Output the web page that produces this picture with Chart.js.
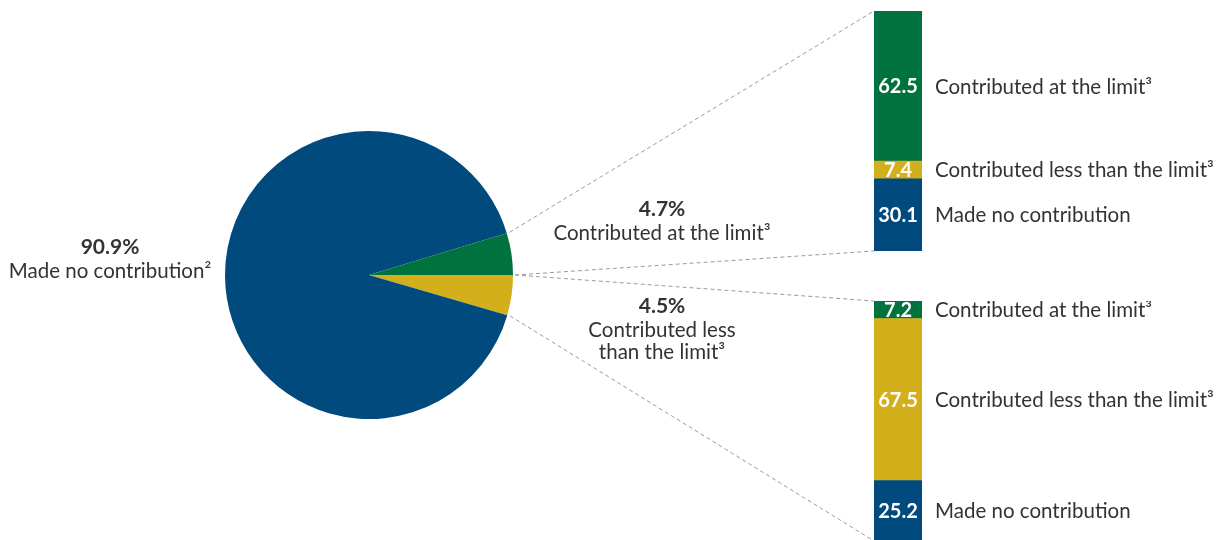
<!DOCTYPE html>
<html>
<head>
<meta charset="utf-8">
<script src="https://cdn.jsdelivr.net/npm/chart.js@4.4.0/dist/chart.umd.min.js"></script>
<style>
    html, body { margin: 0; padding: 0; background: #fff; overflow: hidden; }
    #wrap { position: relative; width: 1224px; height: 540px; overflow: hidden; }
    canvas { position: absolute; }
</style>
</head>
<body>
<div id="wrap">
    <canvas id="pieChart" width="1224" height="540" style="left:0;top:0"></canvas>
    <canvas id="atLimitBar" width="350" height="240" style="left:874px;top:11px"></canvas>
    <canvas id="lessLimitBar" width="350" height="240" style="left:874px;top:301px"></canvas>
</div>
<script>
// --- datos ---
const pieCategories = ['Contributed less than the limit³', 'Made no contribution²', 'Contributed at the limit³'];
const pieValues = [4.5, 90.9, 4.7];

const barCategories = ['Made no contribution', 'Contributed less than the limit³', 'Contributed at the limit³'];
const atLimitValues = [30.1, 7.4, 62.5];
const lessLimitValues = [25.2, 67.5, 7.2];

const BLUE = '#004a7d';
const YELLOW = '#d3af1c';
const GREEN = '#00723d';
const TEXT = '#333333';
const FONT = 'Lato, "Open Sans", sans-serif';

/**
 * Etiquetas de las barras: valor en blanco dentro, categoria a la derecha
 */
const barLabels = {
    id: 'barLabels',
    afterDatasetsDraw(chart) {
        const ctx = chart.ctx;
        ctx.save();
        ctx.textBaseline = 'middle';
        chart.data.datasets.forEach((ds, i) => {
            const bar = chart.getDatasetMeta(i).data[0];
            const cy = (bar.y + bar.base) / 2;
            ctx.fillStyle = '#ffffff';
            ctx.textAlign = 'center';
            ctx.font = 'bold 20px ' + FONT;
            ctx.fillText(ds.data[0].toFixed(1), bar.x, cy + 1);
            ctx.fillStyle = TEXT;
            ctx.textAlign = 'left';
            ctx.font = '20.5px ' + FONT;
            ctx.fillText(ds.label, chart.chartArea.right + 13, cy + 1);
        });
        ctx.restore();
    }
};

function makeBar(id, values) {
    const colors = [BLUE, YELLOW, GREEN];
    return new Chart(document.getElementById(id), {
        type: 'bar',
        data: {
            labels: [''],
            datasets: barCategories.map((c, i) => ({
                label: c,
                data: [values[i]],
                backgroundColor: colors[i],
                borderWidth: 0,
                barPercentage: 1,
                categoryPercentage: 1
            }))
        },
        options: {
            responsive: false,
            animation: false,
            layout: { padding: { left: 0, right: 302, top: 0, bottom: 0 } },
            scales: {
                x: { stacked: true, display: false },
                y: { stacked: true, display: false, min: 0, max: 100 }
            },
            plugins: { legend: { display: false }, tooltip: { enabled: false } }
        },
        plugins: [barLabels]
    });
}

const topBar = makeBar('atLimitBar', atLimitValues);
const bottomBar = makeBar('lessLimitBar', lessLimitValues);

function barRect(chart) {
    const c = chart.canvas;
    const y = chart.scales.y;
    return {
        left: c.offsetLeft + chart.chartArea.left,
        top: c.offsetTop + y.getPixelForValue(100),
        bottom: c.offsetTop + y.getPixelForValue(0)
    };
}

/**
 * Lineas discontinuas y etiquetas del pastel
 */
const pieExtras = {
    id: 'pieExtras',
    afterDraw(chart) {
        const ctx = chart.ctx;
        const arcs = chart.getDatasetMeta(0).data;
        const less = arcs[0], at = arcs[2];
        const cx = at.x, cy = at.y, r = at.outerRadius;
        const pt = (a, rr) => [cx + rr * Math.cos(a), cy + rr * Math.sin(a)];

        const t = barRect(topBar);
        const b = barRect(bottomBar);
        const p1 = pt(at.startAngle, r + 3);
        const p2 = pt(at.endAngle, r + 2);
        const p3 = pt(less.endAngle, r + 3);

        ctx.save();
        ctx.strokeStyle = '#9a9a9a';
        ctx.lineWidth = 1;
        ctx.setLineDash([4, 3]);
        [[p1, [t.left, t.top]], [p2, [t.left, t.bottom]], [p2, [b.left, b.top]], [p3, [b.left, b.bottom]]]
            .forEach(([a, z]) => {
                ctx.beginPath();
                ctx.moveTo(a[0], a[1]);
                ctx.lineTo(z[0], z[1]);
                ctx.stroke();
            });
        ctx.restore();

        const pieLabels = [
            { x: cx - 259, y: cy - 28, pct: pieValues[1], lines: [pieCategories[1]] },
            { x: cx + 293, y: cy - 66, pct: pieValues[2], lines: [pieCategories[2]] },
            { x: cx + 293, y: cy + 31, pct: pieValues[0], lines: ['Contributed less', 'than the limit³'] }
        ];
        ctx.save();
        ctx.textAlign = 'center';
        ctx.textBaseline = 'middle';
        pieLabels.forEach(l => {
            ctx.fillStyle = TEXT;
            ctx.font = 'bold 21px ' + FONT;
            ctx.fillText(l.pct.toFixed(1) + '%', l.x, l.y);
            ctx.font = '20.5px ' + FONT;
            l.lines.forEach((s, k) => ctx.fillText(s, l.x, l.y + 24 + k * 22));
        });
        ctx.restore();
    }
};

new Chart(document.getElementById('pieChart'), {
    type: 'pie',
    data: {
        labels: pieCategories,
        datasets: [{
            data: pieValues,
            backgroundColor: [YELLOW, BLUE, GREEN],
            borderWidth: 0
        }]
    },
    options: {
        responsive: false,
        animation: false,
        rotation: 90,
        layout: { padding: { left: 225, right: 711, top: 131, bottom: 121 } },
        plugins: { legend: { display: false }, tooltip: { enabled: false } }
    },
    plugins: [pieExtras]
});
</script>
</body>
</html>
